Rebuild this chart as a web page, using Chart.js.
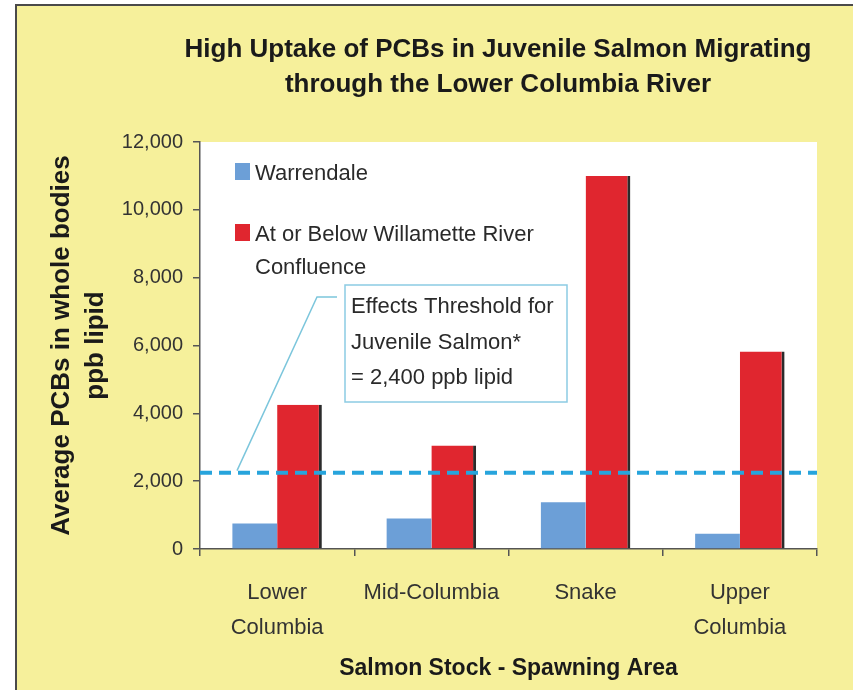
<!DOCTYPE html>
<html>
<head>
<meta charset="utf-8">
<script src="https://cdn.jsdelivr.net/npm/chart.js@4"></script>
<style>
html, body { margin: 0; padding: 0; background: #fff; }
#wrap { position: relative; width: 853px; height: 690px; }
</style>
</head>
<body>
<div id="wrap"><canvas id="pcbChart" width="853" height="690"></canvas></div>
<script>
const categories = [['Lower', 'Columbia'], 'Mid-Columbia', 'Snake', ['Upper', 'Columbia']];
const warrendale = [750, 900, 1380, 450];
const belowWillamette = [4250, 3050, 11000, 5820];
const yTicks = [0, 2000, 4000, 6000, 8000, 10000, 12000];
const threshold = 2250;
const seriesNames = ['Warrendale', 'At or Below Willamette River Confluence'];
const legendLines = [['Warrendale'], ['At or Below Willamette River', 'Confluence']];
const noteLines = ['Effects Threshold for', 'Juvenile Salmon*', '= 2,400 ppb lipid'];
const titleLines = ['High Uptake of PCBs in Juvenile Salmon Migrating', 'through the Lower Columbia River'];

const FONT = "'Liberation Sans', Arial, sans-serif";
const blueCol = '#6c9fd7';
const redCol = '#e0262f';

Chart.defaults.font.family = FONT;

// yellow panel, frame, white plot area and the title
const backdrop = {
    id: 'backdrop',
    beforeDraw(chart) {
        const c = chart.ctx, W = chart.width, H = chart.height, a = chart.chartArea;
        c.save();
        c.fillStyle = '#fff';
        c.fillRect(0, 0, W, H);
        c.fillStyle = '#f6f09b';
        c.fillRect(17, 6, W - 17, H - 6);
        c.strokeStyle = '#4a4a4a';
        c.lineWidth = 2;
        c.beginPath();c.moveTo(16, H);c.lineTo(16, 5);c.lineTo(W, 5);c.stroke();
        c.fillStyle = '#fff';
        c.fillRect(a.left, a.top, a.right - a.left, a.bottom - a.top);
        c.fillStyle = '#1a1a1a';
        c.font = 'bold 26px ' + FONT;
        c.textAlign = 'center';
        c.textBaseline = 'alphabetic';
        titleLines.forEach((t, i) => c.fillText(t, 498, 57 + i * 35));
        c.restore();
    }
};

// threshold line, callout and the legend inside the plot
const overlay = {
    id: 'overlay',
    afterDatasetsDraw(chart) {
        const c = chart.ctx, a = chart.chartArea;
        const yThr = chart.scales.y.getPixelForValue(threshold);
        c.save();
        c.strokeStyle = '#27a4dc';
        c.lineWidth = 4;
        c.setLineDash([12, 7]);
        c.beginPath();c.moveTo(a.left, yThr);c.lineTo(a.right, yThr);c.stroke();
        c.setLineDash([]);

        const bx = a.left + 145, by = a.top + 143, bw = 222, bh = 117;
        c.strokeStyle = '#7cc6dc';
        c.lineWidth = 1.5;
        c.beginPath();
        c.moveTo(a.left + 37, yThr - 2);
        c.lineTo(a.left + 117, by + 12);
        c.lineTo(a.left + 137, by + 12);
        c.stroke();
        c.fillStyle = '#fff';
        c.fillRect(bx, by, bw, bh);
        c.strokeStyle = '#8ccbe3';
        c.strokeRect(bx, by, bw, bh);
        c.fillStyle = '#2a2a2a';
        c.font = '22px ' + FONT;
        c.textAlign = 'left';
        c.textBaseline = 'alphabetic';
        noteLines.forEach((t, i) => c.fillText(t, bx + 6, by + 28 + i * 35.5));

        const cols = [blueCol, redCol];
        const tops = [a.top + 21, a.top + 82];
        legendLines.forEach((lines, k) => {
            c.fillStyle = cols[k];
            c.fillRect(a.left + 35, tops[k], 15, 17);
            c.fillStyle = '#2a2a2a';
            lines.forEach((t, i) => c.fillText(t, a.left + 55, tops[k] + 17 + i * 33));
        });
        c.restore();
    }
};

new Chart(document.getElementById('pcbChart'), {
    type: 'bar',
    data: {
        labels: categories,
        datasets: [
            {label: seriesNames[0], data: warrendale, backgroundColor: blueCol, borderWidth: 0},
            {label: seriesNames[1], data: belowWillamette, backgroundColor: redCol,
                borderColor: '#2b2b2b', borderWidth: {top: 0, right: 3, bottom: 0, left: 0}, borderSkipped: false}
        ]
    },
    options: {
        responsive: false,
        animation: false,
        layout: {padding: {left: 0, right: 36, top: 142, bottom: 0}},
        datasets: {bar: {barPercentage: 1, categoryPercentage: 0.58}},
        plugins: {legend: {display: false}, title: {display: false}, tooltip: {enabled: false}},
        scales: {
            x: {
                grid: {offset: true, drawOnChartArea: false, tickLength: 7, color: '#555', lineWidth: 1.5},
                border: {color: '#555', width: 1.5},
                ticks: {color: '#333', font: {size: 22, lineHeight: 1.6}, padding: 19, maxRotation: 0, autoSkip: false},
                title: {display: true, text: 'Salmon Stock - Spawning Area', color: '#1a1a1a',
                    font: {size: 23, weight: 'bold', lineHeight: 1.2}, padding: {top: 0, bottom: 8}},
                afterFit: s => { s.height = 141; }
            },
            y: {
                min: 0,
                max: 12000,
                afterBuildTicks: s => { s.ticks = yTicks.map(v => ({value: v})); },
                grid: {drawOnChartArea: false, tickLength: 7, color: '#555', lineWidth: 1.5},
                border: {color: '#555', width: 1.5},
                ticks: {color: '#333', font: {size: 20}, padding: 10, callback: v => v.toLocaleString('en-US')},
                title: {display: true, text: ['Average PCBs in whole bodies', 'ppb lipid'], color: '#1a1a1a',
                    font: {size: 26, weight: 'bold', lineHeight: 1.31}, padding: {top: 45, bottom: 0}},
                afterFit: s => { s.width = 200; }
            }
        }
    },
    plugins: [backdrop, overlay]
});
</script>
</body>
</html>
